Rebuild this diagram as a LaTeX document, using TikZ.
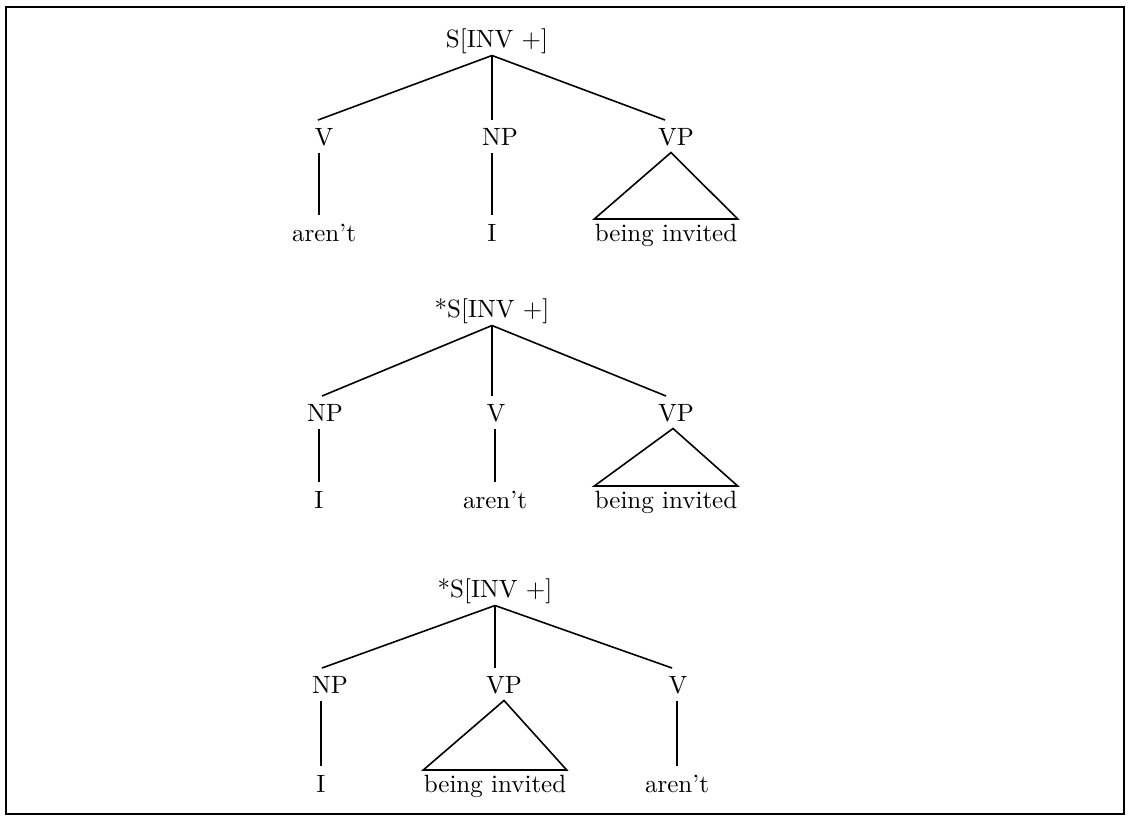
\documentclass[tikz,border=0pt]{standalone}
\begin{document}
\begin{tikzpicture}[x=1pt,y=-1pt,
  every node/.style={scale=2.5,anchor=base,inner xsep=0pt,text depth=0pt,text height=7pt},
  root/.style={inner ysep=3.2pt},
  cat/.style={inner ysep=2.8pt},
  leaf/.style={inner ysep=3.2pt},
  bileaf/.style={inner ysep=1.6pt},
  edge/.style={line width=1.6pt,line join=miter}]
\useasboundingbox (0,0) rectangle (1128,817);
\draw[line width=2.5pt] (6,7) rectangle (1124,814);
% Tree 1
\node[root] (S1) at (497,47) {S[INV +]};
\node[cat] (V1) at (324,145) {V};
\node[cat] (NP1) at (500,145) {NP};
\node[cat] (VP1) at (676,145) {VP};
\node[leaf] (A1) at (324,241) {aren't};
\node[leaf] (I1) at (492,241) {I};
\node[bileaf] (B1) at (666,241) {being invited};
\draw[edge] ([xshift=-5pt]S1.south) -- ([xshift=-6pt]V1.north);
\draw[edge] (I1 |- S1.south) -- (I1 |- NP1.north);
\draw[edge] ([xshift=-5pt]S1.south) -- ([xshift=-11pt]VP1.north);
\draw[edge] ([xshift=-5pt]V1.south) -- ([xshift=-5pt]A1.north);
\draw[edge] (I1.north |- NP1.south) -- (I1.north);
\draw[edge] ([xshift=-5pt]VP1.south) -- (B1.north west) -- (B1.north east) -- cycle;
% Tree 2
\node[root] (S2) at (492,317) {*S[INV +]};
\node[cat] (NP2) at (325,421) {NP};
\node[cat] (V2) at (496,421) {V};
\node[cat] (VP2) at (676,421) {VP};
\node[leaf] (I2) at (319,508) {I};
\node[leaf] (A2) at (495,508) {aren't};
\node[bileaf] (B2) at (666,508) {being invited};
\draw[edge] (S2.south) -- ([xshift=-3pt]NP2.north);
\draw[edge] (S2.south) -- (S2.south |- V2.north);
\draw[edge] (S2.south) -- ([xshift=-10pt]VP2.north);
\draw[edge] (I2.north |- NP2.south) -- (I2.north);
\draw[edge] (A2.north |- V2.south) -- (A2.north);
\draw[edge] ([xshift=-3pt]VP2.south) -- (B2.north west) -- (B2.north east) -- cycle;
% Tree 3
\node[root] (S3) at (495,597) {*S[INV +]};
\node[cat] (NP3) at (330,693) {NP};
\node[cat] (VP3) at (504,693) {VP};
\node[cat] (V3) at (678,693) {V};
\node[leaf] (I3) at (321,792) {I};
\node[bileaf] (B3) at (495,792) {being invited};
\node[leaf] (A3) at (677,792) {aren't};
\draw[edge] (S3.south) -- ([xshift=-8pt]NP3.north);
\draw[edge] (S3.south) -- (S3.south |- VP3.north);
\draw[edge] (S3.south) -- ([xshift=-6pt]V3.north);
\draw[edge] (I3.north |- NP3.south) -- (I3.north);
\draw[edge] (A3.north |- V3.south) -- (A3.north);
\draw[edge] (VP3.south) -- (B3.north west) -- (B3.north east) -- cycle;
\end{tikzpicture}
\end{document}
